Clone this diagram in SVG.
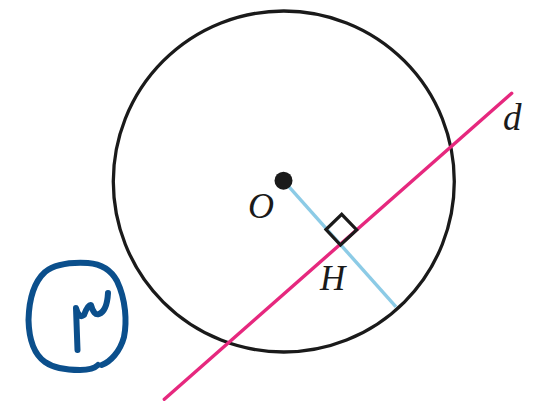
<svg xmlns="http://www.w3.org/2000/svg" width="552" height="411" viewBox="0 0 552 411">
<style>
.lbl{font-family:"Liberation Serif","DejaVu Serif",serif;font-style:italic;fill:#1a1a1a}
.ink{fill:none;stroke:#0b4f8c;stroke-width:6;stroke-linecap:round;stroke-linejoin:round}
</style>
<rect width="552" height="411" fill="#fff"/>
<g id="circle"><circle cx="283.8" cy="181.5" r="170.5" fill="none" stroke="#1a1a1a" stroke-width="3.3"/></g>
<g id="connectors">
<line id="OH" x1="283.5" y1="180.7" x2="396" y2="306.8" stroke="#8ccbe6" stroke-width="3.4"/>
<line id="d-line" x1="164.3" y1="399.3" x2="511.7" y2="93.3" stroke="#e6287e" stroke-width="3.4" stroke-linecap="round"/>
<path id="right-angle" d="M326 229.5 L341.7 214.3 L356.7 230 L340.5 245 Z" fill="none" stroke="#1a1a1a" stroke-width="3.2"/>
</g>
<g id="O"><circle cx="283.5" cy="180.7" r="9" fill="#1a1a1a"/><text class="lbl" x="248" y="218" font-size="36">O</text></g>
<g id="H"><text class="lbl" x="320" y="290" font-size="35">H</text></g>
<g id="d"><text class="lbl" x="503" y="130" font-size="37">d</text></g>
<g id="mark">
<path class="ink" d="M101.7 365 C110 362 120 352 124 337 C127 322 126 300 117 281 C111 270 102 264 88 263 C70 262 55 264 45 272 C34 282 29 300 28.5 320 C29 340 35 355 45 362 C55 369 68 370 80 370 C90 370 96 367 98 365"/>
<path class="ink" d="M77.5 350 L76 308 Q79 319 84 315 Q88 304 91 305 Q94 316 99 314 Q107 311 108 293"/>
</g>
</svg>
